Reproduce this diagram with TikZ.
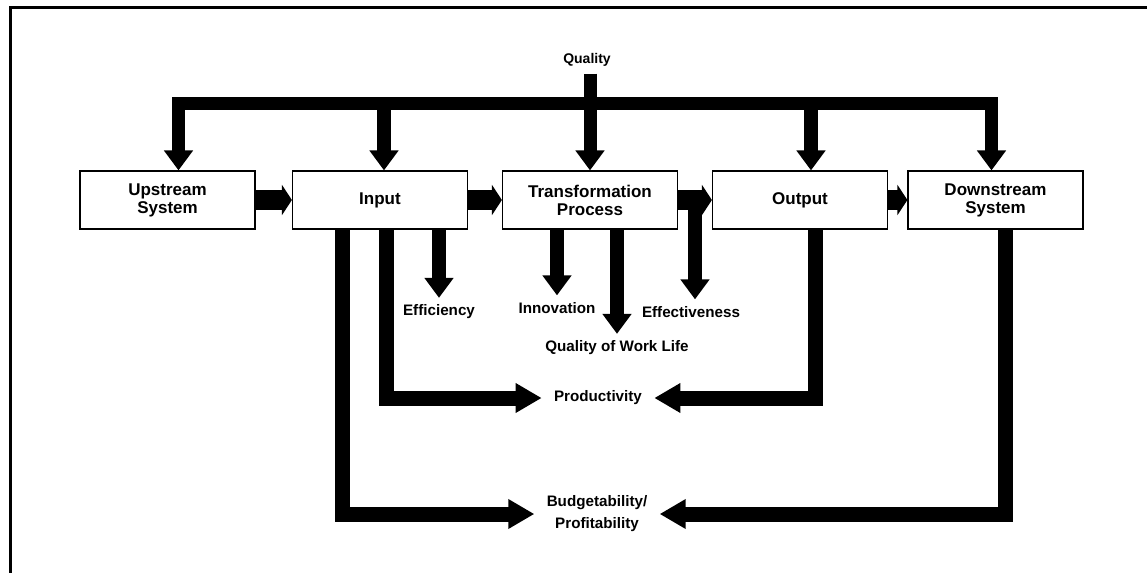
\documentclass[tikz,border=0pt]{standalone}
\usepackage{fontspec}
\setmainfont{Liberation Sans}
\usepackage{tikz}
\usetikzlibrary{arrows.meta,calc}

\begin{document}
\begin{tikzpicture}[x=0.5pt,y=-0.5pt,
  box/.style={draw,line width=0.6pt,minimum width=87.5pt,minimum height=29pt,inner sep=1pt,align=center,
              font=\bfseries\fontsize{8.5}{9}\selectfont},
  lab/.style={align=center,inner xsep=6pt,font=\bfseries\fontsize{7.6}{11}\selectfont},
  bus/.style={line width=6.5pt},
  fatdown/.style={line width=7pt,-{Triangle[width=14pt,length=10pt]}},
  fatright/.style={line width=10pt,-{Triangle[width=15pt,length=5pt]}},
  fatbend/.style={line width=7.5pt,-{Triangle[width=14pt,length=13pt]}}]
  \useasboundingbox (0,0) rectangle (1147,573);
  % edge of the scanned page
  \draw[line width=1.5pt] (10,573) -- (10,7) -- (1147,7);

  \foreach \nm/\x/\lab in {up/167.5/{Upstream\\System}, inp/380/Input, tp/590/{Transformation\\Process},
                           outp/800/Output, dn/995.5/{Downstream\\System}}
    \node[box] (\nm) at (\x,200) {\lab};
  \foreach \a/\b in {up/inp,inp/tp,tp/outp,outp/dn}
    \draw[fatright] (\a) -- (\b);

  % quality bus on top
  \node[font=\bfseries\fontsize{7}{8}\selectfont] (qual) at (587,60) {Quality};
  \coordinate (bus) at (0,103);
  \coordinate (q1) at ($(up.north)+(11,0)$);
  \coordinate (q2) at ($(inp.north)+(4,0)$);
  \coordinate (q4) at ($(outp.north)+(11,0)$);
  \coordinate (q5) at ($(dn.north)+(-4,0)$);
  \draw[bus,{Triangle[width=14pt,length=10pt]}-{Triangle[width=14pt,length=10pt]}]
    (q1) -- (q1 |- bus) -- (q5 |- bus) -- (q5);
  \foreach \c in {q2,q4}
    \draw[fatdown] (\c |- bus) -- (\c);
  \draw[bus,-{Triangle[width=14pt,length=10pt]}] (qual.south -| tp.north) -- (tp.north);

  % measures
  \node[lab] (eff) at (439,312) {Efficiency};
  \node[lab] (innov) at (557,308) {Innovation};
  \node[lab] (qwl) at (617,348) {Quality of Work Life};
  \node[lab] (effe) at (691,312) {Effectiveness};
  \node[lab] (prod) at (598,398) {Productivity};
  \node[lab] (budget) at (597,514) {Budgetability/\\Profitability};

  \draw[fatdown] (inp.south -| eff.north) -- (eff.north);
  \draw[fatdown] (tp.south -| innov.north) -- (innov.north);
  \draw[fatdown] (tp.south -| qwl.north) -- (qwl.north);
  \coordinate (fork) at ($(tp.east)!0.5!(outp.west)$);
  \draw[fatdown] (fork) -- (fork |- effe.north);

  \coordinate (p1) at ($(inp.south)+(6,0)$);
  \coordinate (p2) at ($(outp.south)+(15,0)$);
  \coordinate (b1) at ($(inp.south)+(-38,0)$);
  \coordinate (b2) at ($(dn.south)+(10,0)$);
  \draw[fatbend] (p1) |- (prod.west);
  \draw[fatbend] (p2) |- (prod.east);
  \draw[fatbend] (b1) |- (budget.west);
  \draw[fatbend] (b2) |- (budget.east);
\end{tikzpicture}
\end{document}
